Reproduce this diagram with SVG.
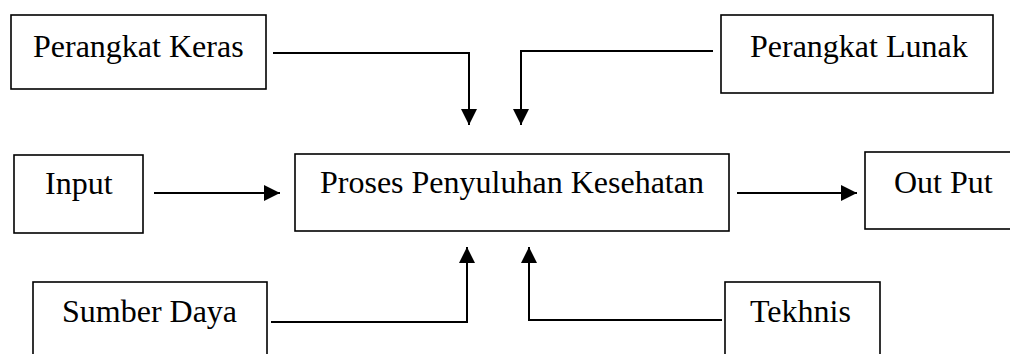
<svg xmlns="http://www.w3.org/2000/svg" width="1010" height="354" viewBox="0 0 1010 354">
<style>
.box{fill:#fff;stroke:#000;stroke-width:1.6}
.lbl{font-family:"Liberation Serif","Times New Roman",serif;font-size:32px;fill:#000}
.con{fill:none;stroke:#000;stroke-width:2}
</style>
<defs>
<marker id="arr" viewBox="0 0 16 16" refX="16" refY="8" markerWidth="16" markerHeight="16" markerUnits="userSpaceOnUse" orient="auto">
<path d="M0,0 L16,8 L0,16 Z" fill="#000"/>
</marker>
</defs>
<rect width="1010" height="354" fill="#fff"/>
<g id="connectors">
<polyline class="con" points="273,53 469,53 469,125" marker-end="url(#arr)"/>
<polyline class="con" points="713,51 521,51 521,125" marker-end="url(#arr)"/>
<line class="con" x1="154" y1="193" x2="280" y2="193" marker-end="url(#arr)"/>
<line class="con" x1="737" y1="193" x2="857" y2="193" marker-end="url(#arr)"/>
<polyline class="con" points="271,322 467,322 467,247" marker-end="url(#arr)"/>
<polyline class="con" points="722,320 529,320 529,247" marker-end="url(#arr)"/>
</g>
<g id="perangkat-keras">
<rect class="box" x="11" y="15" width="255" height="74"/>
<text class="lbl" x="33" y="57">Perangkat Keras</text>
</g>
<g id="perangkat-lunak">
<rect class="box" x="721" y="15" width="272" height="78"/>
<text class="lbl" x="750" y="57">Perangkat Lunak</text>
</g>
<g id="input">
<rect class="box" x="14" y="155" width="129" height="78"/>
<text class="lbl" x="45" y="194">Input</text>
</g>
<g id="proses">
<rect class="box" x="295" y="154" width="434" height="77"/>
<text class="lbl" x="320" y="193">Proses Penyuluhan Kesehatan</text>
</g>
<g id="output">
<rect class="box" x="865" y="152" width="150" height="77"/>
<text class="lbl" x="894" y="193">Out Put</text>
</g>
<g id="sumber-daya">
<rect class="box" x="33" y="282" width="234" height="80"/>
<text class="lbl" x="62" y="322">Sumber Daya</text>
</g>
<g id="tekhnis">
<rect class="box" x="725" y="282" width="155" height="80"/>
<text class="lbl" x="750" y="322">Tekhnis</text>
</g>
</svg>
